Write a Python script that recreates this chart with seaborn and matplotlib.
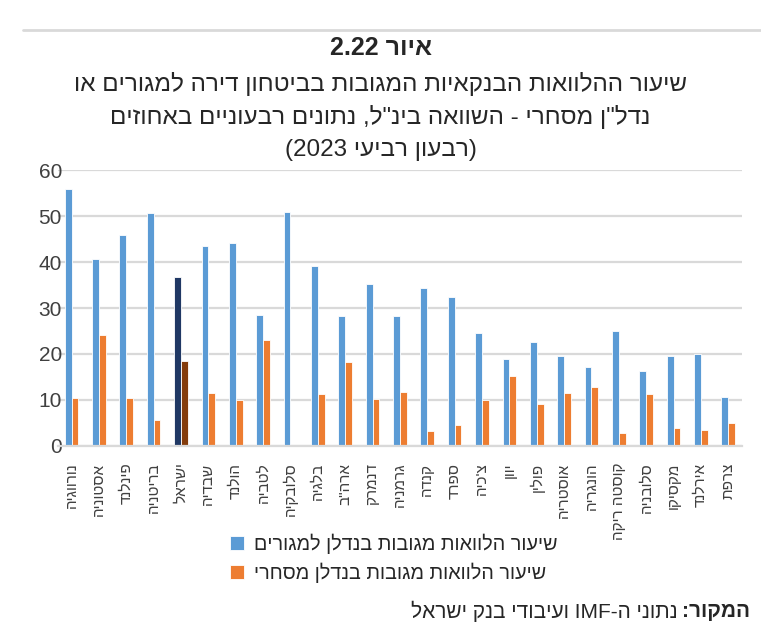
import re
import numpy as np
import pandas as pd
import matplotlib
matplotlib.use("Agg")
import matplotlib.pyplot as plt
import seaborn as sns

countries = ["נורווגיה", "אסטוניה", "פינלנד", "בריטניה", "ישראל", "שבדיה", "הולנד",
             "לטביה", "סלובקיה", "בלגיה", 'ארה"ב', "דנמרק", "גרמניה", "קנדה", "ספרד",
             "צ'כיה", "יוון", "פולין", "אוסטריה", "הונגריה", "קוסטה ריקה", "סלובניה",
             "מקסיקו", "אירלנד", "צרפת"]
residential = [56.0, 40.7, 46.0, 50.6, 36.8, 43.5, 44.1, 28.5, 50.8, 39.1, 28.3, 35.2, 28.3,
               34.3, 32.4, 24.6, 18.8, 22.7, 19.6, 17.1, 24.9, 16.3, 19.6, 19.9, 10.7]
commercial = [10.4, 24.1, 10.4, 5.7, 18.5, 11.5, 9.9, 23.0, np.nan, 11.2, 18.3, 10.1, 11.8,
              3.2, 4.6, 9.9, 15.1, 9.1, 11.5, 12.9, 2.9, 11.2, 3.8, 3.5, 4.9]
series_names = ["שיעור הלוואות מגובות בנדלן למגורים", "שיעור הלוואות מגובות בנדלן מסחרי"]
highlight = "ישראל"

title = "איור 2.22"
subtitle = ["שיעור ההלוואות הבנקאיות המגובות בביטחון דירה למגורים או",
            'נדל"ן מסחרי - השוואה בינ"ל, נתונים רבעוניים באחוזים',
            "(רבעון רביעי 2023)"]
source_bold = "המקור:"
source_text = "נתוני ה-IMF ועיבודי בנק ישראל"

blue, orange = "#5B9BD5", "#ED7D31"
blue_dark, orange_dark = "#203864", "#843C0C"


def heb(s):
    # rough visual ordering for right-to-left text
    tokens = re.findall(r"[A-Za-z0-9.]+|.", s)
    out = "".join(reversed(tokens))
    return out.translate(str.maketrans("()", ")("))


sns.set_style("white")
plt.rcParams["font.family"] = ["Liberation Sans", "DejaVu Sans"]

df = pd.DataFrame({
    "country": [heb(c) for c in countries] * 2,
    "value": residential + commercial,
    "series": [heb(series_names[0])] * len(countries) + [heb(series_names[1])] * len(countries),
})

fig = plt.figure(figsize=(7.61, 6.28), dpi=100)
ax = fig.add_axes([0.076, 0.29, 0.899, 0.439])

sns.barplot(data=df, x="country", y="value", hue="series", palette=[blue, orange],
            width=0.5, ax=ax, edgecolor="white", linewidth=0.6, saturation=1)

# darker colours for Israel
hi = countries.index(highlight)
for cont, col in zip(ax.containers, [blue_dark, orange_dark]):
    for p in cont.patches:
        if abs(p.get_x() + p.get_width() / 2 - hi) < 0.5:
            p.set_facecolor(col)

ax.set_ylim(0, 60)
ax.set_xlim(-0.5, len(countries) - 0.5)
ax.set_yticks(range(0, 61, 10))
ax.yaxis.grid(True, color="#d9d9d9", linewidth=1.6)
ax.set_axisbelow(True)
for s in ["top", "right", "left"]:
    ax.spines[s].set_visible(False)
ax.spines["bottom"].set_color("#d9d9d9")
ax.spines["bottom"].set_linewidth(1.6)
ax.set_xlabel("")
ax.set_ylabel("")
ax.tick_params(axis="y", length=0, pad=-3, labelsize=15, labelcolor="#404040")
ax.tick_params(axis="x", length=0, pad=12, labelsize=11, labelcolor="#404040")
plt.setp(ax.get_xticklabels(), rotation=90, ha="center", va="top")

leg = ax.legend(loc="upper left", bbox_to_anchor=(0.226, -0.255), frameon=False,
                fontsize=14.2, handlelength=0.72, handleheight=0.72, handletextpad=0.5,
                labelspacing=0.42, labelcolor="#262626")

# figure header
fig.add_artist(plt.Line2D([0.03, 1.0], [0.952, 0.952], color="#d9d9d9", linewidth=2))
fig.text(0.5, 0.924, heb(title), ha="center", va="center", fontsize=18, fontweight="bold")
for i, line in enumerate(subtitle):
    fig.text(0.5, 0.867 - i * 0.053, heb(line), ha="center", va="center", fontsize=17.5,
             color="#262626")

# source line
fig.canvas.draw()
r = fig.canvas.get_renderer()
tb = fig.text(0.985, 0.026, heb(source_bold), ha="right", va="center", fontsize=15,
              fontweight="bold")
bb = tb.get_window_extent(r)
x_left = fig.transFigure.inverted().transform((bb.x0, 0))[0]
fig.text(x_left - 0.005, 0.026, heb(source_text), ha="right", va="center", fontsize=15)

fig.savefig("out.png", dpi=100)
